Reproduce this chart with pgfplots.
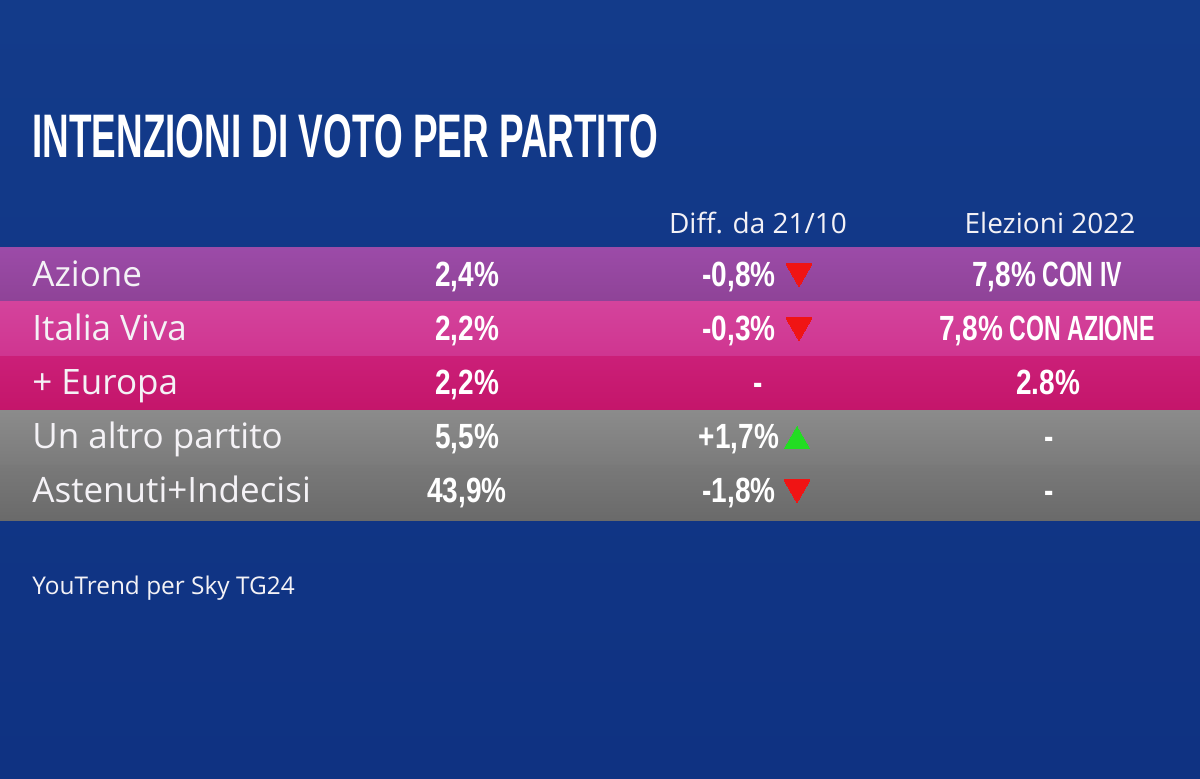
\documentclass[border=0pt]{standalone}
\usepackage{fontspec}
\usepackage{pgfplots}
\pgfplotsset{compat=1.18}
\setmainfont{Open Sans}
\newfontfamily\titlefont[FakeStretch=0.6]{Liberation Sans Bold}
\newfontfamily\numfont[FakeStretch=0.8]{Liberation Sans Bold}
\newfontfamily\capfont[FakeStretch=0.66]{Liberation Sans Bold}
\definecolor{bgtop}{HTML}{133B8A}
\definecolor{bgbot}{HTML}{0F3282}
\definecolor{azT}{HTML}{9C4BA8}
\definecolor{azB}{HTML}{8E4397}
\definecolor{ivT}{HTML}{D4439C}
\definecolor{ivB}{HTML}{CF3590}
\definecolor{euT}{HTML}{CB1F78}
\definecolor{euB}{HTML}{C4156A}
\definecolor{g1T}{HTML}{8B8B8B}
\definecolor{g1B}{HTML}{7B7B7B}
\definecolor{g2T}{HTML}{797979}
\definecolor{g2B}{HTML}{6A6A6A}
\definecolor{txt}{HTML}{F4F2F6}
\definecolor{dnred}{HTML}{F01414}
\definecolor{upgreen}{HTML}{22DD22}
\newcommand{\nm}[1]{\fontsize{17.5pt}{20pt}\selectfont #1}
\newcommand{\nb}[1]{\fontsize{17.5pt}{20pt}\numfont #1}
\newcommand{\cp}[1]{\fontsize{17.5pt}{20pt}\capfont #1}
\begin{document}
\begin{tikzpicture}
\begin{axis}[scale only axis, width=600pt, height=389.5pt,
  xmin=0, xmax=1200, ymin=0, ymax=779, y dir=reverse,
  hide axis, clip=false]
% background
\addplot[xbar, bar width=779, bar shift=0pt, draw=none, top color=bgtop, bottom color=bgbot] coordinates {(1200,389.5)};
% row bands
\addplot[xbar, bar width=54.5, bar shift=0pt, draw=none, top color=azT, bottom color=azB] coordinates {(1200,274.75)};
\addplot[xbar, bar width=54.5, bar shift=0pt, draw=none, top color=ivT, bottom color=ivB] coordinates {(1200,329.25)};
\addplot[xbar, bar width=55, bar shift=0pt, draw=none, top color=euT, bottom color=euB] coordinates {(1200,383.75)};
\addplot[xbar, bar width=54.5, bar shift=0pt, draw=none, top color=g1T, bottom color=g1B] coordinates {(1200,438.25)};
\addplot[xbar, bar width=55, bar shift=0pt, draw=none, top color=g2T, bottom color=g2B] coordinates {(1200,492.75)};
% arrows
\addplot[dnred, only marks, mark=triangle*, mark size=7.5pt, mark options={rotate=180, fill=dnred, draw=dnred, line width=0pt}] coordinates {(799,271.5) (799,325.5) (797,487.5)};
\addplot[upgreen, only marks, mark=triangle*, mark size=7.5pt, mark options={fill=upgreen, draw=upgreen, line width=0pt}] coordinates {(797,441.5)};
% title
\node[anchor=base west, inner sep=0pt, text=white] at (axis cs:32,158) {\fontsize{30.75pt}{32pt}\titlefont INTENZIONI DI VOTO PER PARTITO};
% headers
\node[anchor=base, inner sep=0pt, text=txt] at (axis cs:758,234) {\fontsize{14pt}{16pt}\selectfont Diff. da 21/10};
\node[anchor=base, inner sep=0pt, text=txt] at (axis cs:1050,234) {\fontsize{14pt}{16pt}\selectfont Elezioni 2022};
% names
\node[anchor=base west, inner sep=0pt, text=txt] at (axis cs:32,287) {\nm{Azione}};
\node[anchor=base west, inner sep=0pt, text=txt] at (axis cs:32,341) {\nm{Italia Viva}};
\node[anchor=base west, inner sep=0pt, text=txt] at (axis cs:32,395) {\nm{+ Europa}};
\node[anchor=base west, inner sep=0pt, text=txt] at (axis cs:32,449) {\nm{Un altro partito}};
\node[anchor=base west, inner sep=0pt, text=txt] at (axis cs:32,503) {\nm{Astenuti+Indecisi}};
% values
\node[anchor=base, inner sep=0pt, text=white] at (axis cs:467,287) {\nb{2,4\%}};
\node[anchor=base, inner sep=0pt, text=white] at (axis cs:467,341) {\nb{2,2\%}};
\node[anchor=base, inner sep=0pt, text=white] at (axis cs:467,395) {\nb{2,2\%}};
\node[anchor=base, inner sep=0pt, text=white] at (axis cs:467,449) {\nb{5,5\%}};
\node[anchor=base, inner sep=0pt, text=white] at (axis cs:467,503) {\nb{43,9\%}};
% diffs
\node[anchor=base, inner sep=0pt, text=white] at (axis cs:739,287) {\nb{-0,8\%}};
\node[anchor=base, inner sep=0pt, text=white] at (axis cs:739,341) {\nb{-0,3\%}};
\node[anchor=base, inner sep=0pt, text=white] at (axis cs:758,395) {\nb{-}};
\node[anchor=base, inner sep=0pt, text=white] at (axis cs:739,449) {\nb{+1,7\%}};
\node[anchor=base, inner sep=0pt, text=white] at (axis cs:739,503) {\nb{-1,8\%}};
% elezioni 2022
\node[anchor=base, inner sep=0pt, text=white] at (axis cs:1047,287) {\nb{7,8\%}\cp{ CON IV}};
\node[anchor=base, inner sep=0pt, text=white] at (axis cs:1047,341) {\nb{7,8\%}\cp{ CON AZIONE}};
\node[anchor=base, inner sep=0pt, text=white] at (axis cs:1048,395) {\nb{2.8\%}};
\node[anchor=base, inner sep=0pt, text=white] at (axis cs:1049,449) {\nb{-}};
\node[anchor=base, inner sep=0pt, text=white] at (axis cs:1049,503) {\nb{-}};
% footer
\node[anchor=base west, inner sep=0pt, text=txt] at (axis cs:32,595) {\fontsize{12.2pt}{14pt}\selectfont YouTrend per Sky TG24};
\end{axis}
\end{tikzpicture}
\end{document}
